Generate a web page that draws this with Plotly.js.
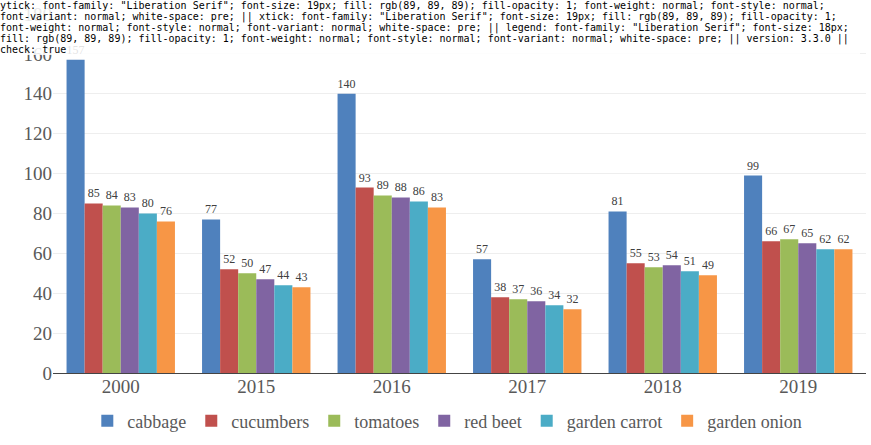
<!DOCTYPE html>
<html>
<head>
<meta charset="utf-8">
<script src="https://cdn.plot.ly/plotly-3.0.1.min.js"></script>
<style>
  html, body { margin: 0; padding: 0; background: #fff; }
</style>
</head>
<body>
<div id="chart"></div>
<div id="info" style="font-family:'DejaVu Sans Mono';font-size:10px;position:absolute;left:0;top:0;width:860px;background:rgba(255,255,255,0.85)"></div>
<script>
// Vegetable figures by year
const years = ["2000", "2015", "2016", "2017", "2018", "2019"];
const cabbage = [157, 77, 140, 57, 81, 99];
const cucumbers = [85, 52, 93, 38, 55, 66];
const tomatoes = [84, 50, 89, 37, 53, 67];
const redBeet = [83, 47, 88, 36, 54, 65];
const gardenCarrot = [80, 44, 86, 34, 51, 62];
const gardenOnion = [76, 43, 83, 32, 49, 62];

const seriesNames = ["cabbage", "cucumbers", "tomatoes", "red beet", "garden carrot", "garden onion"];
const seriesValues = [cabbage, cucumbers, tomatoes, redBeet, gardenCarrot, gardenOnion];
const seriesColors = ["#4F81BD", "#C0504D", "#9BBB59", "#8064A2", "#4BACC6", "#F79646"];

const fam = "Liberation Serif";

const traces = seriesNames.map((name, i) => ({
  type: "bar",
  name: name,
  x: years,
  y: seriesValues[i],
  text: seriesValues[i].map(String),
  textposition: "outside",
  textfont: { family: fam, size: 12, color: "#404040" },
  cliponaxis: false,
  marker: { color: seriesColors[i] }
}));

const layout = {
  width: 871,
  height: 445,
  margin: { l: 53, r: 5, t: 14, b: 64 },
  barmode: "group",
  bargap: 0.2,
  font: { family: fam, color: "#595959" },
  xaxis: { type: "category", tickfont: { family: fam, size: 19 } },
  yaxis: { range: [0, 180], dtick: 20, tickfont: { family: fam, size: 19 } },
  legend: { orientation: "h", x: 0.485, xanchor: "center", y: -0.134, yanchor: "middle", font: { family: fam, size: 18 } }
};

Plotly.newPlot("chart", traces, layout, { staticPlot: true }).then(gd => {
  const t = document.querySelector(".ytick text");
  const x = document.querySelector(".xtick text");
  const l = document.querySelector(".legendtext");
  document.getElementById("info").textContent =
    "ytick: " + t.getAttribute("style") + " || xtick: " + x.getAttribute("style") +
    " || legend: " + l.getAttribute("style") + " || version: " + Plotly.version +
    " || check: " + document.fonts.check('12px "Liberation Serif"');
});
</script>
</body>
</html>
